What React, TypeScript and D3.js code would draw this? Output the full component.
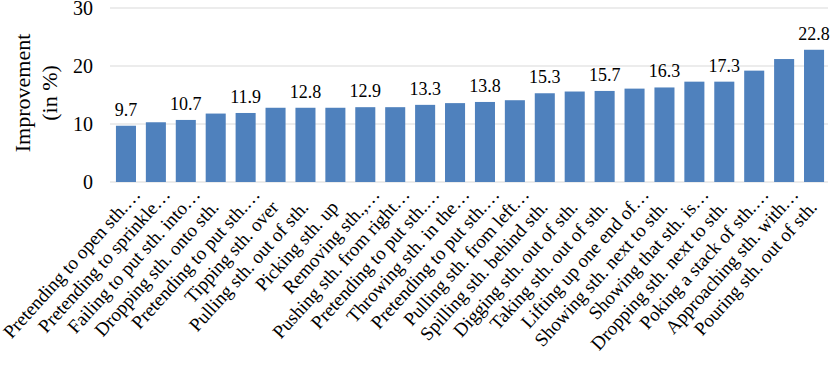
import React, { useRef, useEffect } from "react";
import * as d3 from "d3";

// categories, left to right
const categories = [
  "Pretending to open sth.…",
  "Pretending to sprinkle…",
  "Failing to put sth. into…",
  "Dropping sth. onto sth.",
  "Pretending to put sth.…",
  "Tipping sth. over",
  "Pulling sth. out of sth.",
  "Picking sth. up",
  "Removing sth.,…",
  "Pushing sth. from right…",
  "Pretending to put sth.…",
  "Throwing sth. in the…",
  "Pretending to put sth.…",
  "Pulling sth. from left…",
  "Spilling sth. behind sth.",
  "Digging sth. out of sth.",
  "Taking sth. out of sth.",
  "Lifting up one end of…",
  "Showing sth. next to sth.",
  "Showing that sth. is…",
  "Dropping sth. next to sth.",
  "Poking a stack of sth.…",
  "Approaching sth. with…",
  "Pouring sth. out of sth.",
];

// improvement in %
const improvement = [
  9.7, 10.3, 10.7, 11.8, 11.9, 12.8, 12.8, 12.8, 12.9, 12.9, 13.3, 13.6,
  13.8, 14.1, 15.3, 15.6, 15.7, 16.1, 16.3, 17.3, 17.3, 19.2, 21.2, 22.8,
];

// data labels shown on the chart (only every other bar + the last one)
const valueLabels = [
  "9.7", null, "10.7", null, "11.9", null, "12.8", null, "12.9", null, "13.3", null,
  "13.8", null, "15.3", null, "15.7", null, "16.3", null, "17.3", null, null, "22.8",
];

const yTicks = [0, 10, 20, 30];

const W = 830;
const H = 365;
const FONT = "'Liberation Serif', 'Times New Roman', serif";

export default function App() {
  const svgRef = useRef<SVGSVGElement>(null);

  useEffect(() => {
    if (!svgRef.current) return;
    const svg = d3.select(svgRef.current);
    svg.selectAll("*").remove();

    const data = categories.map((c, i) => ({
      cat: c,
      key: i,
      value: improvement[i],
      label: valueLabels[i],
    }));

    const x = d3
      .scaleBand<number>()
      .domain(data.map((d) => d.key))
      .range([111, 829])
      .paddingInner(0.33)
      .paddingOuter(0.165);

    const y = d3.scaleLinear().domain([0, 30]).range([182, 8]);

    // gridlines
    svg
      .append("g")
      .selectAll("line")
      .data(yTicks)
      .enter()
      .append("line")
      .attr("x1", 110)
      .attr("x2", 828)
      .attr("y1", (d) => y(d))
      .attr("y2", (d) => y(d))
      .attr("stroke", "#d9d9d9")
      .attr("stroke-width", 1.2);

    // tick labels
    svg
      .append("g")
      .selectAll("text")
      .data(yTicks)
      .enter()
      .append("text")
      .attr("x", 93)
      .attr("y", (d) => y(d))
      .attr("dy", "0.36em")
      .attr("text-anchor", "end")
      .attr("font-family", FONT)
      .attr("font-size", "20px")
      .attr("fill", "#000")
      .text((d) => d);

    // axis title
    const title = svg
      .append("text")
      .attr("transform", "translate(30,93) rotate(-90)")
      .attr("text-anchor", "middle")
      .attr("font-family", FONT)
      .attr("font-size", "22px")
      .attr("fill", "#000");
    title.append("tspan").attr("x", 0).attr("y", 0).text("Improvement");
    title.append("tspan").attr("x", 0).attr("y", 27).text("(in %)");

    // bars
    svg
      .append("g")
      .selectAll("rect")
      .data(data)
      .enter()
      .append("rect")
      .attr("x", (d) => x(d.key)!)
      .attr("y", (d) => y(d.value))
      .attr("width", x.bandwidth())
      .attr("height", (d) => y(0) - y(d.value))
      .attr("fill", "#4f81bd");

    // value labels
    svg
      .append("g")
      .selectAll("text")
      .data(data.filter((d) => d.label !== null))
      .enter()
      .append("text")
      .attr("x", (d) => x(d.key)! + x.bandwidth() / 2)
      .attr("y", (d) => y(d.value) - 10)
      .attr("text-anchor", "middle")
      .attr("font-family", FONT)
      .attr("font-size", "18px")
      .attr("fill", "#000")
      .text((d) => d.label as string);

    // category labels, rotated; truncated ones hang the ellipsis past the anchor
    svg
      .append("g")
      .selectAll("text")
      .data(data)
      .enter()
      .append("text")
      .attr(
        "transform",
        (d) => `translate(${x(d.key)! + x.bandwidth() / 2 + 4},208) rotate(-48)`
      )
      .attr("dx", (d) => (d.cat.endsWith("…") ? "0.9em" : "0"))
      .attr("text-anchor", "end")
      .attr("font-family", FONT)
      .attr("font-size", "19px")
      .attr("fill", "#000")
      .text((d) => d.cat);
  }, []);

  return (
    <svg
      ref={svgRef}
      width={W}
      height={H}
      style={{ position: "absolute", left: 0, top: 0, background: "#fff" }}
    />
  );
}
